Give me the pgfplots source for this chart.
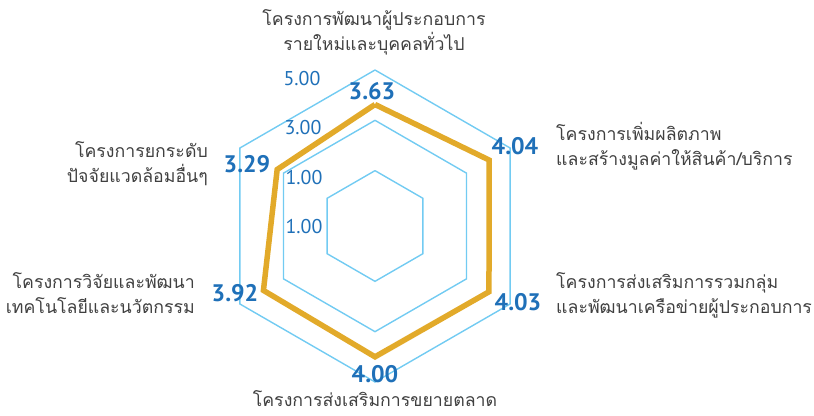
\documentclass[border=0pt]{standalone}
\usepackage{pgfplots}
\pgfplotsset{compat=1.18}
\usepackage{pgfplotstable}
\usepackage{fontspec}
\newfontfamily\thaifont[Script=Thai]{Loma}
\newfontfamily\numfont{PT Sans}
\definecolor{ringblue}{HTML}{72CBF2}
\definecolor{lineorange}{HTML}{E2AA2A}
\definecolor{valblue}{HTML}{1F70B8}
\definecolor{labgray}{HTML}{404040}
\pgfplotstableread{
angle r1 r3 r5 v
90 1 3 5 3.63
30 1 3 5 4.04
-30 1 3 5 4.03
-90 1 3 5 4.00
210 1 3 5 3.92
150 1 3 5 3.29
90 1 3 5 3.63
}\radar
\begin{document}
\begin{tikzpicture}
\begin{axis}[
  hide axis, scale only axis, clip=false,
  width=814bp, height=416bp,
  xmin=-375, xmax=439, ymin=-190, ymax=226,
]
\path (axis cs:-375,-190) rectangle (axis cs:439,226);
\addplot[data cs=polar, ringblue, line width=1.4bp, line join=miter] table[x=angle, y expr={(\thisrow{r1}+1.2)*25.16}] {\radar};
\addplot[data cs=polar, ringblue, line width=1.4bp, line join=miter] table[x=angle, y expr={(\thisrow{r3}+1.2)*25.16}] {\radar};
\addplot[data cs=polar, ringblue, line width=1.4bp, line join=miter] table[x=angle, y expr={(\thisrow{r5}+1.2)*25.16}] {\radar};
\addplot[data cs=polar, lineorange, line width=5.5bp, line join=miter] table[x=angle, y expr={(\thisrow{v}+1.2)*25.16}] {\radar};
% ring labels
\begin{scope}[every node/.style={font=\numfont\fontsize{20}{20}\selectfont, text=valblue}]
\node at (axis cs:-73,147) {5.00};
\node at (axis cs:-72,98) {3.00};
\node at (axis cs:-71,48) {1.00};
\node at (axis cs:-71,-1) {1.00};
\end{scope}
% value labels
\begin{scope}[every node/.style={font=\numfont\bfseries\fontsize{24}{24}\selectfont, text=valblue}]
\node at (axis cs:-3,135) {3.63};
\node at (axis cs:140,80) {4.04};
\node at (axis cs:143,-76) {4.03};
\node at (axis cs:0,-148) {4.00};
\node at (axis cs:-140,-67) {3.92};
\node at (axis cs:-128,62) {3.29};
\end{scope}
% category labels
\begin{scope}[every node/.style={font=\thaifont\fontsize{17.8}{25}\selectfont, text=labgray, inner sep=0pt}]
\node[align=center] at (axis cs:-1,194) {โครงการพัฒนาผู้ประกอบการ\\รายใหม่และบุคคลทั่วไป};
\node[align=left, anchor=west] at (axis cs:181,80) {โครงการเพิ่มผลิตภาพ\\และสร้างมูลค่าให้สินค้า/บริการ};
\node[align=left, anchor=west] at (axis cs:181,-69) {โครงการส่งเสริมการรวมกลุ่ม\\และพัฒนาเครือข่ายผู้ประกอบการ};
\node[align=center] at (axis cs:0,-173) {โครงการส่งเสริมการขยายตลาด};
\node[align=right, anchor=east] at (axis cs:-167,62) {โครงการยกระดับ\\ปัจจัยแวดล้อมอื่นๆ};
\node[align=right, anchor=east] at (axis cs:-180,-67) {โครงการวิจัยและพัฒนา\\เทคโนโลยีและนวัตกรรม};
\end{scope}
\end{axis}
\end{tikzpicture}
\end{document}
